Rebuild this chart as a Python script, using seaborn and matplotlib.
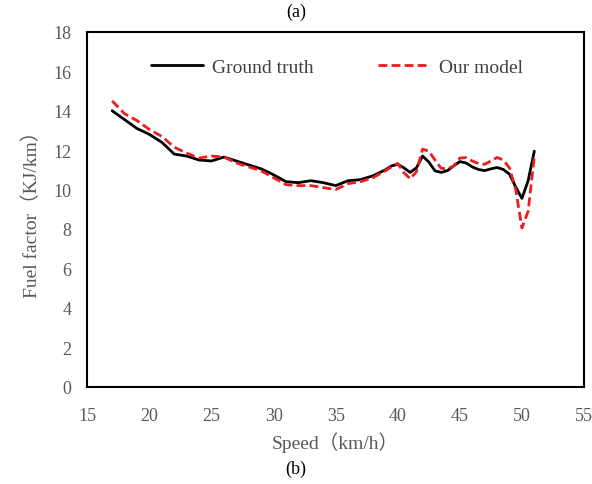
import matplotlib
matplotlib.use("Agg")
import matplotlib.pyplot as plt
import seaborn as sns
import pandas as pd

speed = [17, 18, 19, 20, 21, 22, 23, 24, 25, 26, 27, 28, 29, 30, 31, 32, 33, 34,
         35, 36, 37, 38, 39, 39.5, 40, 40.5, 41, 41.5, 42, 42.5, 43, 43.5, 44,
         44.5, 45, 45.5, 46, 46.5, 47, 47.5, 48, 48.5, 49, 49.5, 50, 50.5, 51]
ground_truth = [14.0, 13.55, 13.1, 12.8, 12.4, 11.8, 11.7, 11.5, 11.45, 11.65,
                11.45, 11.25, 11.05, 10.75, 10.4, 10.35, 10.45, 10.35, 10.2, 10.45,
                10.5, 10.7, 11.0, 11.2, 11.28, 11.1, 10.87, 11.1, 11.7, 11.4,
                10.95, 10.87, 10.96, 11.2, 11.42, 11.35, 11.15, 11.02, 10.96, 11.05,
                11.12, 11.02, 10.78, 10.13, 9.55, 10.45, 11.95]
our_model = [14.5, 13.85, 13.5, 13.05, 12.7, 12.15, 11.85, 11.6, 11.7, 11.65,
             11.35, 11.15, 10.95, 10.6, 10.25, 10.2, 10.2, 10.1, 10.0, 10.3,
             10.4, 10.6, 10.95, 11.15, 11.33, 10.85, 10.55, 10.9, 12.05, 11.95,
             11.5, 11.08, 11.05, 11.2, 11.6, 11.62, 11.45, 11.32, 11.28, 11.45,
             11.63, 11.5, 11.1, 10.0, 8.05, 8.9, 11.7]
x_ticks = [15, 20, 25, 30, 35, 40, 45, 50, 55]
y_ticks = [0, 2, 4, 6, 8, 10, 12, 14, 16, 18]

sns.set_style("white")
fam = ["Liberation Serif", "Noto Sans CJK SC", "DejaVu Sans"]
plt.rcParams["font.family"] = fam

df = pd.DataFrame({"Speed": speed + speed,
                   "Fuel": ground_truth + our_model,
                   "Series": ["Ground truth"] * len(speed) + ["Our model"] * len(speed)})

fig = plt.figure(figsize=(5.92, 4.85), dpi=100)
ax = fig.add_axes([0.1475, 0.201, 0.839, 0.731])

sns.lineplot(data=df[df.Series == "Ground truth"], x="Speed", y="Fuel", ax=ax,
             color="black", linewidth=2.0, label="Ground truth")
sns.lineplot(data=df[df.Series == "Our model"], x="Speed", y="Fuel", ax=ax,
             color="#ee1c1c", linewidth=2.0, linestyle=(0, (3.2, 1.5)), label="Our model")

ax.set_xlim(15, 55)
ax.set_ylim(0, 18)
ax.set_xticks(x_ticks)
ax.set_yticks(y_ticks)
gray = "#595959"
ax.tick_params(direction="in", length=4, width=1.3, colors="black",
               labelcolor=gray, labelsize=13)
ax.tick_params(axis="x", pad=15)
ax.tick_params(axis="y", pad=11.5)
for s in ax.spines.values():
    s.set_color("black")
    s.set_linewidth(1.5)
ax.set_xlabel("Speed（km/h）", color=gray, fontsize=14, labelpad=5)
ax.set_ylabel("Fuel factor（KJ/km）", color=gray, fontsize=14, labelpad=9)

leg = ax.legend(loc="upper center", bbox_to_anchor=(0.502, 0.975), ncol=2, frameon=False,
                fontsize=14, handlelength=2.7, handletextpad=0.45, columnspacing=3.3)
for t in leg.get_texts():
    t.set_color("#404040")

fig.text(0.5, 0.975, "(a)", ha="center", va="center", fontsize=13, color="black")
fig.text(0.5, 0.033, "(b)", ha="center", va="center", fontsize=13, color="black")

fig.savefig("out.png", dpi=100)
